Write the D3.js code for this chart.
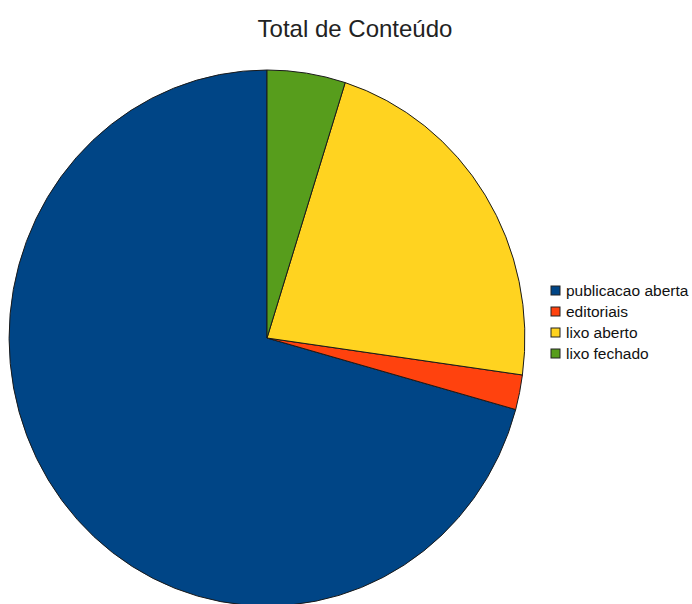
<!DOCTYPE html>
<html>
<head>
<meta charset="utf-8">
<script src="https://cdn.jsdelivr.net/npm/d3@7"></script>
<style>
  html, body { margin: 0; padding: 0; background: #fff; }
  svg { display: block; }
</style>
</head>
<body>
<svg id="chart" width="692" height="604"></svg>
<script>
// Content share by type
const categories = ["publicacao aberta", "editoriais", "lixo aberto", "lixo fechado"];
const values = [70.7, 2.1, 22.3, 4.9];
const colors = ["#004586", "#ff420e", "#ffd320", "#579d1c"];
const title = "Total de Conteúdo";

const svg = d3.select("#chart");

// Pie geometry (slightly taller than wide)
const cx = 267, cy = 338, rx = 258, ry = 268;

const data = categories.map((c, i) => ({ name: c, value: values[i], color: colors[i] }));

// Slices run counter-clockwise from 12 o'clock
const pie = d3.pie().value(d => d.value).sort(null)
  .startAngle(0).endAngle(-2 * Math.PI);
const arc = d3.arc().innerRadius(0).outerRadius(1);

const g = svg.append("g")
  .attr("transform", `translate(${cx},${cy}) scale(${rx},${ry})`);

g.selectAll("path")
  .data(pie(data))
  .join("path")
  .attr("d", arc)
  .attr("fill", d => d.data.color)
  .attr("stroke", "#1a1a1a")
  .attr("stroke-width", 1)
  .attr("vector-effect", "non-scaling-stroke");

// Title
svg.append("text")
  .attr("x", 355)
  .attr("y", 37)
  .attr("text-anchor", "middle")
  .attr("font-family", "Liberation Sans, Arial, sans-serif")
  .attr("font-size", 24)
  .attr("fill", "#222")
  .text(title);

// Legend
const legend = svg.append("g").attr("transform", "translate(551,286)");
const row = legend.selectAll("g")
  .data(data)
  .join("g")
  .attr("transform", (d, i) => `translate(0,${i * 21})`);
row.append("rect")
  .attr("width", 9).attr("height", 9)
  .attr("fill", d => d.color)
  .attr("stroke", "#222").attr("stroke-width", 1);
row.append("text")
  .attr("x", 15).attr("y", 10)
  .attr("font-family", "Liberation Sans, Arial, sans-serif")
  .attr("font-size", 15.5)
  .attr("fill", "#111")
  .text(d => d.name);
</script>
</body>
</html>
